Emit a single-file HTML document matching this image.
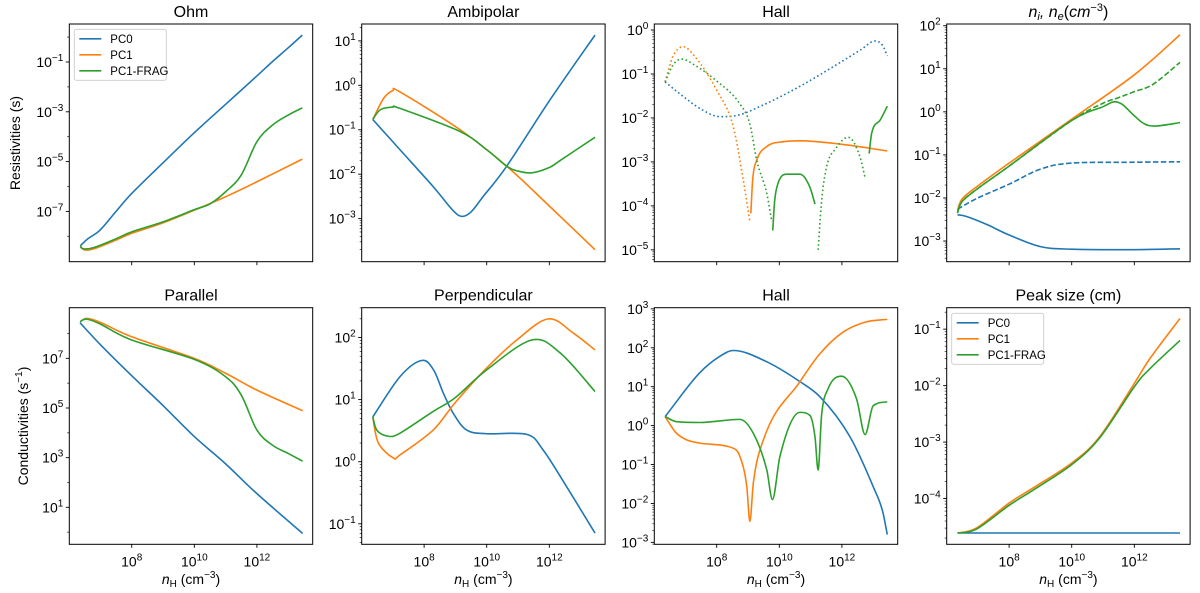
<!DOCTYPE html>
<html><head><meta charset="utf-8"><style>
html,body{margin:0;padding:0;background:#fff;}
svg{display:block;font-family:"Liberation Sans","DejaVu Sans",sans-serif;}
</style></head><body>
<svg id="fig" width="1200" height="593" viewBox="0 0 1200 593" xmlns="http://www.w3.org/2000/svg"></svg>
<script>
// ---- data (log10 values; x = log10 nH) ----
const ohmPC0X=[6.36,6.6,6.99,7.5,8,9,10,11,12,12.5,13,13.45];
const ohmPC0Y=[-8.38,-8.1,-7.75,-7.0,-6.28,-5.05,-3.84,-2.7,-1.56,-0.98,-0.43,0.08];
const ohmPC1X=[6.36,6.5,6.8,7.5,8,9,10,11,12,13.45];
const ohmPC1Y=[-8.42,-8.55,-8.5,-8.15,-7.88,-7.46,-6.95,-6.41,-5.81,-4.9];
const ohmFragX=[6.36,6.45,6.8,7.5,8,9,10,10.5,11,11.5,12,12.5,13,13.45];
const ohmFragY=[-8.38,-8.5,-8.45,-8.1,-7.82,-7.42,-6.93,-6.7,-6.21,-5.54,-4.2,-3.53,-3.13,-2.84];

const ambPC0X=[6.36,7.23,8.29,8.9,9.2,9.5,9.89,10.64,12.02,13.46];
const ambPC0Y=[-0.77,-1.45,-2.28,-2.8,-2.95,-2.85,-2.5,-1.82,-0.33,1.13];
const ambPC1X=[6.36,6.7,7.0,7.23,9.15,10.64,12.02,13.46];
const ambPC1Y=[-0.77,-0.3,-0.12,-0.15,-1.0,-1.82,-2.73,-3.7];
const ambFragX=[6.36,6.6,7.0,7.23,9.15,10.0,10.64,11.0,11.44,12.0,12.35,13.46];
const ambFragY=[-0.77,-0.55,-0.49,-0.52,-1.04,-1.45,-1.82,-1.93,-1.97,-1.85,-1.69,-1.17];

const hallRPC0X=[6.35,7,7.5,8.1,8.6,9.5,10.66,11.94,12.6,13.06,13.3,13.45];
const hallRPC0Y=[-1.18,-1.55,-1.8,-1.97,-1.95,-1.7,-1.28,-0.74,-0.45,-0.25,-0.35,-0.59];
const hallRPC1DotX=[6.35,6.6,6.93,7.3,8.0,8.53,8.85,9.06];
const hallRPC1DotY=[-1.18,-0.6,-0.38,-0.6,-1.37,-2.2,-3.42,-4.36];
const hallRPC1SolX=[9.09,9.15,9.28,9.6,10.13,10.66,12,13.45];
const hallRPC1SolY=[-4.17,-3.4,-2.96,-2.65,-2.54,-2.52,-2.6,-2.75];
const hallRFragDot1X=[6.35,6.6,6.88,7.3,8.0,8.74,9.06,9.28,9.6,9.76];
const hallRFragDot1Y=[-1.18,-0.8,-0.66,-0.8,-1.16,-1.68,-2.14,-2.97,-3.72,-4.36];
const hallRFragSol1X=[9.79,9.85,9.92,10.24,10.66,10.98,11.14];
const hallRFragSol1Y=[-4.56,-3.9,-3.58,-3.28,-3.28,-3.58,-3.96];
const hallRFragDot2X=[11.24,11.35,11.51,11.8,12.2,12.58,12.74];
const hallRFragDot2Y=[-5.0,-3.9,-3.11,-2.7,-2.44,-2.89,-3.36];
const hallRFragSol2X=[12.87,12.95,13.22,13.45];
const hallRFragSol2Y=[-2.81,-2.35,-2.05,-1.73];

const densPC1X=[6.35,6.5,7,8,10,12,13.46];
const densPC1Y=[-2.3,-2.02,-1.72,-1.19,-0.17,0.86,1.79];
const densFragSolX=[6.35,6.5,7,8,10,11,11.33,11.6,11.97,12.3,12.66,13.46];
const densFragSolY=[-2.35,-2.08,-1.78,-1.26,-0.2,0.12,0.23,0.18,-0.07,-0.27,-0.33,-0.25];
const densFragDashX=[6.35,6.5,7,8,10,11,11.5,12,12.6,13.46];
const densFragDashY=[-2.35,-2.08,-1.78,-1.26,-0.2,0.2,0.33,0.47,0.64,1.15];
const densPC0DashX=[6.35,7,8,9,10,12,13.46];
const densPC0DashY=[-2.26,-2.0,-1.68,-1.33,-1.19,-1.17,-1.16];
const densPC0SolX=[6.35,6.64,7.3,8,9,10,12,13.46];
const densPC0SolY=[-2.39,-2.43,-2.62,-2.86,-3.13,-3.19,-3.2,-3.18];

const parPC0X=[6.35,7,8,9,10,11,12,13.46];
const parPC0Y=[8.43,7.55,6.3,5.1,3.85,2.75,1.55,-0.05];
const parPC1X=[6.35,6.56,7,8,10,11,12,13.46];
const parPC1Y=[8.47,8.61,8.45,7.87,7.0,6.4,5.72,4.89];
const parFragX=[6.35,6.56,7,8,10,11,11.5,12,12.5,13,13.46];
const parFragY=[8.47,8.58,8.38,7.74,6.96,6.26,5.52,4.11,3.5,3.17,2.86];

const perpPC0X=[6.36,7.23,7.92,8.3,8.61,8.93,9.36,10,11.28,11.8,12.55,13.46];
const perpPC0Y=[0.72,1.37,1.63,1.48,1.11,0.78,0.51,0.45,0.44,0.19,-0.4,-1.15];
const perpPC1X=[6.36,6.54,7.02,7.23,8.29,8.99,10,10.96,11.97,12.77,13.46];
const perpPC1Y=[0.72,0.3,0.06,0.11,0.51,0.95,1.51,1.96,2.3,2.07,1.8];
const perpFragX=[6.36,6.5,6.86,7.23,8.29,8.99,10,11.44,12.35,13.46];
const perpFragY=[0.72,0.5,0.41,0.46,0.81,1.03,1.48,1.96,1.75,1.13];

const hallCPC0X=[6.35,7.46,8.1,8.53,9.6,10.66,11.3,12.26,13.0,13.3,13.45];
const hallCPC0Y=[0.23,1.36,1.78,1.93,1.64,1.13,0.74,-0.29,-1.57,-2.2,-2.8];
const hallCPC1X=[6.35,6.72,7.46,8.53,8.74,8.96,9.06,9.17,9.49,10.66,11.3,12.05,12.79,13.45];
const hallCPC1Y=[0.23,-0.2,-0.45,-0.58,-0.79,-1.56,-2.46,-1.47,-0.37,1.13,1.85,2.41,2.67,2.73];
const hallCFragX=[6.35,6.72,7.46,8.74,9.17,9.6,9.78,10.02,10.66,10.98,11.14,11.24,11.35,11.56,11.99,12.47,12.74,13.0,13.45];
const hallCFragY=[0.23,0.1,0.08,0.16,-0.2,-1.14,-1.9,-0.79,0.34,0.26,-0.29,-1.14,0.26,0.95,1.27,0.68,-0.23,0.51,0.61];

const peakPC0X=[6.35,13.46];
const peakPC0Y=[-4.61,-4.61];
const peakPC1X=[6.35,6.96,8,8.77,10,10.9,12,12.5,13.46];
const peakPC1Y=[-4.61,-4.52,-4.08,-3.81,-3.37,-2.9,-1.96,-1.52,-0.81];
const peakFragX=[6.35,6.96,8,8.77,10,10.9,12,12.5,13.46];
const peakFragY=[-4.61,-4.54,-4.12,-3.85,-3.4,-2.92,-2.02,-1.7,-1.2];

const xTickExps=[8,10,12];
const legendLabels=["PC0","PC1","PC1-FRAG"];

// ---- rendering ----
const NS="http://www.w3.org/2000/svg";
const svg=document.getElementById('fig');
const C0="#1f77b4",C1="#ff7f0e",C2="#2ca02c";
const colLeft=[69.3,361.7,654.3,946.7], W=243.4;
const rowTop=[24,307.7], rowBot=[261.7,544.3];
const XMIN=6.006, XPD=31.3;
function mk(tag,attrs,parent){const e=document.createElementNS(NS,tag);for(const k in attrs)e.setAttribute(k,attrs[k]);(parent||svg).appendChild(e);return e;}

function monoPath(xs,ys){
  const n=xs.length; if(n<2) return '';
  const d=[],m=[];
  for(let i=0;i<n-1;i++) d.push((ys[i+1]-ys[i])/(xs[i+1]-xs[i]));
  m[0]=d[0]; m[n-1]=d[n-2];
  for(let i=1;i<n-1;i++){ if(d[i-1]*d[i]<=0) m[i]=0; else m[i]=(d[i-1]+d[i])/2; }
  for(let i=0;i<n-1;i++){ if(d[i]===0){m[i]=0;m[i+1]=0;continue;}
    const a=m[i]/d[i],b=m[i+1]/d[i],s=a*a+b*b; if(s>9){const t=3/Math.sqrt(s);m[i]=t*a*d[i];m[i+1]=t*b*d[i];}}
  let p=`M${xs[0].toFixed(2)},${ys[0].toFixed(2)}`;
  for(let i=0;i<n-1;i++){const h=(xs[i+1]-xs[i])/3;
    p+=`C${(xs[i]+h).toFixed(2)},${(ys[i]+m[i]*h).toFixed(2)} ${(xs[i+1]-h).toFixed(2)},${(ys[i+1]-m[i+1]*h).toFixed(2)} ${xs[i+1].toFixed(2)},${ys[i+1].toFixed(2)}`;}
  return p;
}
function crPath(xs,ys){
  const n=xs.length; if(n<3) return monoPath(xs,ys);
  let p=`M${xs[0].toFixed(2)},${ys[0].toFixed(2)}`;
  for(let i=0;i<n-1;i++){
    const i0=Math.max(0,i-1),i3=Math.min(n-1,i+2);
    const c1x=xs[i]+(xs[i+1]-xs[i0])/6,c1y=ys[i]+(ys[i+1]-ys[i0])/6;
    const c2x=xs[i+1]-(xs[i3]-xs[i])/6,c2y=ys[i+1]-(ys[i3]-ys[i])/6;
    p+=`C${c1x.toFixed(2)},${c1y.toFixed(2)} ${c2x.toFixed(2)},${c2y.toFixed(2)} ${xs[i+1].toFixed(2)},${ys[i+1].toFixed(2)}`;
  }
  return p;
}

function expLabel(parent,x,y,e,anchor,name){
  const t=mk('text',{x:x,y:y,'text-anchor':anchor,'font-size':'14',fill:'#000'},parent);
  
  
  const a=document.createElementNS(NS,'tspan');a.textContent='10';t.appendChild(a);
  const b=document.createElementNS(NS,'tspan');b.setAttribute('dy','-6');b.setAttribute('font-size','10');
  b.textContent=(e<0?'\u2212':'')+Math.abs(e);t.appendChild(b);
  return t;
}

function panel(cfg){
  const L=colLeft[cfg.col],T=rowTop[cfg.row],B=rowBot[cfg.row],H=B-T;
  const g=mk('g',{});
  
  
  const px=v=>L+(v-XMIN)*XPD;
  const py=v=>T+(cfg.ymax-v)/(cfg.ymax-cfg.ymin)*H;
  const cid='clip-'+cfg.name;
  const cp=mk('clipPath',{id:cid},g);mk('rect',{x:L,y:T,width:W,height:H},cp);
  const sg=mk('g',{'clip-path':`url(#${cid})`},g);
  cfg.series.forEach(s=>{
    const xs=s.x.map(px),ys=s.y.map(py);
    const d=cfg.mono?monoPath(xs,ys):crPath(xs,ys);
    const p=mk('path',{d:d,fill:'none',stroke:s.c,'stroke-width':1.6,'stroke-linejoin':'round'},sg);
    if(s.dash) p.setAttribute('stroke-dasharray',s.dash);
    
    
  });
  const fr=mk('rect',{x:L,y:T,width:W,height:H,fill:'none',stroke:'#000','stroke-width':1},g);
  
  
  cfg.majors.forEach(e=>{
    const y=py(e);
    mk('line',{x1:L-3.5,x2:L,y1:y,y2:y,stroke:'#000','stroke-width':0.9},g);
    expLabel(g,L-6,y+5,e,'end',cfg.name+'-ytick-label');
  });
  if(cfg.minorDecades){
    cfg.minorDecades.forEach(e=>{const y=py(e);if(y>=T&&y<=B)mk('line',{x1:L-2,x2:L,y1:y,y2:y,stroke:'#000','stroke-width':0.7},g);});
  } else {
    for(let e=Math.floor(cfg.ymin);e<=Math.ceil(cfg.ymax);e++){
      for(let k=2;k<10;k++){const v=e+Math.log10(k);if(v>cfg.ymin&&v<cfg.ymax){const y=py(v);mk('line',{x1:L-2,x2:L,y1:y,y2:y,stroke:'#000','stroke-width':0.6},g);}}
    }
  }
  xTickExps.forEach(e=>{
    const x=px(e);
    mk('line',{x1:x,x2:x,y1:B,y2:B+3.5,stroke:'#000','stroke-width':0.9},g);
    if(cfg.row===1) expLabel(g,x,B+22,e,'middle','x-tick-label');
  });
  const tt=mk('text',{x:L+W/2,y:T-7,'text-anchor':'middle','font-size':'16',fill:'#000'},g);
  
  
  if(cfg.titleHTML) tt.innerHTML=cfg.titleHTML; else tt.textContent=cfg.title;
  if(cfg.row===1){
    const xl=mk('text',{x:L+W/2,y:584,'text-anchor':'middle','font-size':'14',fill:'#000'},g);
    
    
    xl.innerHTML='<tspan font-style="italic">n</tspan><tspan font-size="10" dy="3">H</tspan><tspan dy="-3"> (cm</tspan><tspan font-size="10" dy="-6">\u22123</tspan><tspan dy="6">)</tspan>';
  }
  if(cfg.legend){
    const lg=mk('g',{},g);
    
    
    const [lx,ly]=cfg.legend;
    mk('rect',{x:lx,y:ly,width:92,height:51,rx:2,fill:'#fff',stroke:'#ccc','stroke-width':0.9},lg);
    [C0,C1,C2].forEach((c,i)=>{
      const yy=ly+9.5+i*16;
      const ln=mk('line',{x1:lx+5,x2:lx+27,y1:yy,y2:yy,stroke:c,'stroke-width':1.6},lg);
      
      
      const t=mk('text',{x:lx+36,y:yy+4,'font-size':'11.5',fill:'#000'},lg);
      
      
      t.textContent=legendLabels[i];
    });
  }
}

const DOT='1.6 2.6';
panel({name:'ohm',col:0,row:0,ymax:0.526,ymin:-9.02,majors:[-1,-3,-5,-7],minorDecades:[0,-2,-4,-6,-8],title:'Ohm',legend:[74.3,29.3],
  series:[{x:ohmPC0X,y:ohmPC0Y,c:C0,name:'ohm-pc0-line'},{x:ohmPC1X,y:ohmPC1Y,c:C1,name:'ohm-pc1-line'},{x:ohmFragX,y:ohmFragY,c:C2,name:'ohm-pc1-frag-line'}]});
panel({name:'ambipolar',col:1,row:0,ymax:1.38,ymin:-3.97,majors:[1,0,-1,-2,-3],title:'Ambipolar',
  series:[{x:ambPC0X,y:ambPC0Y,c:C0,name:'ambipolar-pc0-line'},{x:ambPC1X,y:ambPC1Y,c:C1,name:'ambipolar-pc1-line'},{x:ambFragX,y:ambFragY,c:C2,name:'ambipolar-pc1-frag-line'}]});
panel({name:'hall-resistivity',col:2,row:0,ymax:0.137,ymin:-5.27,majors:[0,-1,-2,-3,-4,-5],title:'Hall',mono:true,
  series:[{x:hallRPC0X,y:hallRPC0Y,c:C0,dash:DOT,name:'hall-pc0-negative-dotted'},
  {x:hallRPC1DotX,y:hallRPC1DotY,c:C1,dash:DOT,name:'hall-pc1-negative-dotted'},
  {x:hallRPC1SolX,y:hallRPC1SolY,c:C1,name:'hall-pc1-positive-line'},
  {x:hallRFragDot1X,y:hallRFragDot1Y,c:C2,dash:DOT,name:'hall-frag-negative-dotted-1'},
  {x:hallRFragSol1X,y:hallRFragSol1Y,c:C2,name:'hall-frag-positive-line-1'},
  {x:hallRFragDot2X,y:hallRFragDot2Y,c:C2,dash:DOT,name:'hall-frag-negative-dotted-2'},
  {x:hallRFragSol2X,y:hallRFragSol2Y,c:C2,name:'hall-frag-positive-line-2'}]});
panel({name:'densities',col:3,row:0,ymax:2.04,ymin:-3.48,majors:[2,1,0,-1,-2,-3],
  titleHTML:'<tspan font-style="italic">n</tspan><tspan font-style="italic" font-size="11" dy="3">i</tspan><tspan font-style="italic" dy="-3">, n</tspan><tspan font-style="italic" font-size="11" dy="3">e</tspan><tspan dy="-3">(</tspan><tspan font-style="italic">cm</tspan><tspan font-size="11" dy="-6">\u22123</tspan><tspan dy="6">)</tspan>',
  series:[{x:densPC0DashX,y:densPC0DashY,c:C0,dash:'5.5 2.4',name:'ne-pc0-dashed'},{x:densPC0SolX,y:densPC0SolY,c:C0,name:'ni-pc0-line'},
  {x:densFragDashX,y:densFragDashY,c:C2,dash:'5.5 2.4',name:'ne-frag-dashed'},{x:densPC1X,y:densPC1Y,c:C1,name:'ni-pc1-line'},{x:densFragSolX,y:densFragSolY,c:C2,name:'ni-frag-line'}]});
panel({name:'parallel',col:0,row:1,ymax:9.04,ymin:-0.49,majors:[7,5,3,1],minorDecades:[8,6,4,2,0],title:'Parallel',
  series:[{x:parPC0X,y:parPC0Y,c:C0,name:'parallel-pc0-line'},{x:parPC1X,y:parPC1Y,c:C1,name:'parallel-pc1-line'},{x:parFragX,y:parFragY,c:C2,name:'parallel-pc1-frag-line'}]});
panel({name:'perpendicular',col:1,row:1,ymax:2.48,ymin:-1.33,majors:[2,1,0,-1],title:'Perpendicular',
  series:[{x:perpPC0X,y:perpPC0Y,c:C0,name:'perp-pc0-line'},{x:perpPC1X,y:perpPC1Y,c:C1,name:'perp-pc1-line'},{x:perpFragX,y:perpFragY,c:C2,name:'perp-pc1-frag-line'}]});
panel({name:'hall-conductivity',col:2,row:1,ymax:3.03,ymin:-3.05,majors:[3,2,1,0,-1,-2,-3],title:'Hall',mono:true,
  series:[{x:hallCPC0X,y:hallCPC0Y,c:C0,name:'hallc-pc0-line'},{x:hallCPC1X,y:hallCPC1Y,c:C1,name:'hallc-pc1-line'},{x:hallCFragX,y:hallCFragY,c:C2,name:'hallc-pc1-frag-line'}]});
panel({name:'peak-size',col:3,row:1,ymax:-0.62,ymin:-4.81,majors:[-1,-2,-3,-4],title:'Peak size (cm)',legend:[951.7,313.3],
  series:[{x:peakPC0X,y:peakPC0Y,c:C0,name:'peak-pc0-line'},{x:peakPC1X,y:peakPC1Y,c:C1,name:'peak-pc1-line'},{x:peakFragX,y:peakFragY,c:C2,name:'peak-pc1-frag-line'}]});

const yl1=mk('text',{x:0,y:0,'text-anchor':'middle','font-size':'14',fill:'#000',transform:'translate(20,143) rotate(-90)'});


yl1.textContent='Resistivities (s)';
const yl2=mk('text',{x:0,y:0,'text-anchor':'middle','font-size':'14',fill:'#000',transform:'translate(28,426) rotate(-90)'});


yl2.innerHTML='Conductivities (s<tspan font-size="10" dy="-6">\u22121</tspan><tspan dy="6">)</tspan>';
</script>
</body></html>
